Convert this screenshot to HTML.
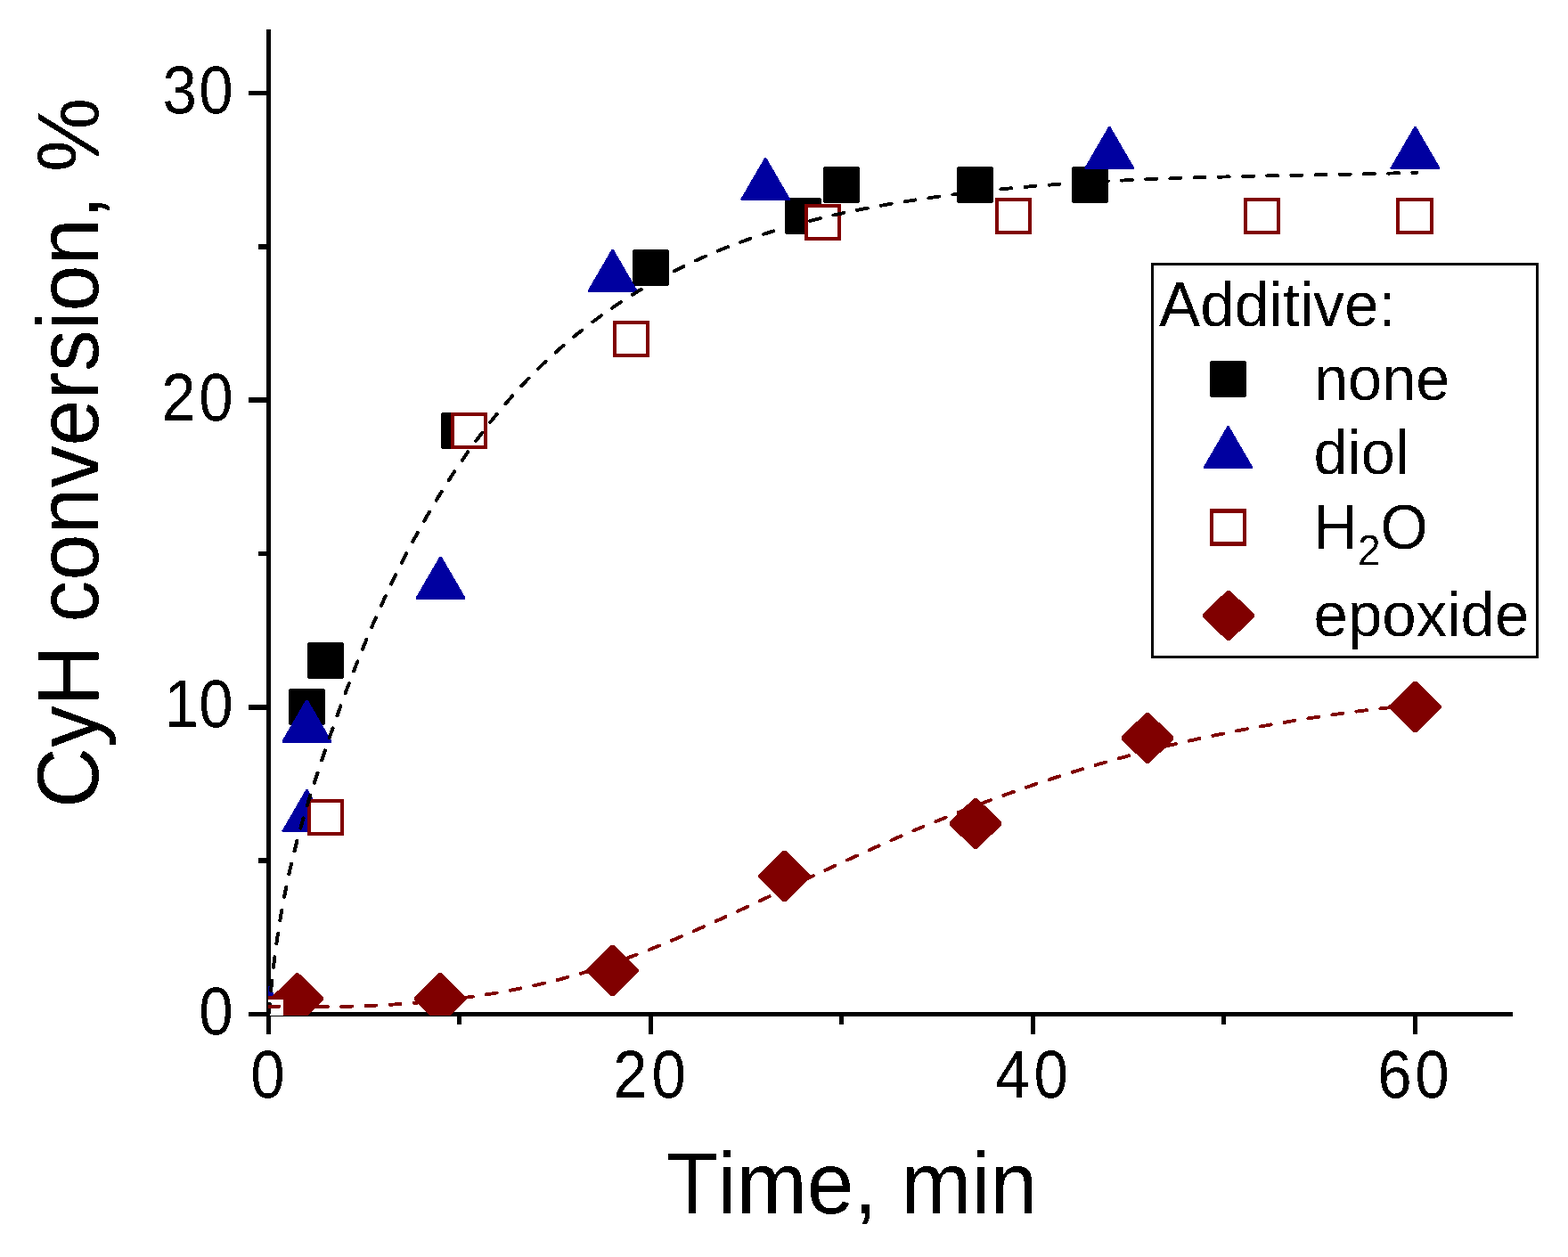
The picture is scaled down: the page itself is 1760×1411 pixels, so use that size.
<!DOCTYPE html>
<html lang="en"><head><meta charset="utf-8"><title>CyH conversion vs time</title>
<style>html,body{margin:0;padding:0;background:#fff}body{width:1760px;height:1411px;overflow:hidden}svg{display:block}text{font-family:"Liberation Sans",Arial,Helvetica,sans-serif;fill:#000;font-kerning:none}</style></head><body>
<svg width="1760" height="1411" viewBox="0 0 1760 1411">
<rect width="1760" height="1411" fill="#fff"/>
<defs><clipPath id="plot"><rect x="301" y="0" width="1459" height="1140"/></clipPath><filter id="bin" x="-5%" y="-5%" width="110%" height="110%" color-interpolation-filters="sRGB"><feComponentTransfer><feFuncA type="discrete" tableValues="0 1"/></feComponentTransfer></filter></defs>
<g id="axes" fill="#000" shape-rendering="crispEdges">
<rect x="299" y="33" width="5" height="1128"/>
<rect x="279" y="1136" width="1419" height="5"/>
<rect x="279" y="791" width="22" height="6"/>
<rect x="279" y="446" width="22" height="6"/>
<rect x="279" y="102" width="22" height="5"/>
<rect x="290" y="963" width="11" height="6"/>
<rect x="290" y="619" width="11" height="5"/>
<rect x="290" y="274" width="11" height="6"/>
<rect x="728" y="1138" width="5" height="23"/>
<rect x="1157" y="1138" width="5" height="23"/>
<rect x="1586" y="1138" width="5" height="23"/>
<rect x="513" y="1138" width="5" height="12"/>
<rect x="942" y="1138" width="5" height="12"/>
<rect x="1371" y="1138" width="5" height="12"/>
</g>
<g id="ticklabels" font-size="73.7" filter="url(#bin)">
<text transform="translate(0 1160.90) scale(0.9375 1.04)" x="238.17">0</text>
<text transform="translate(0 816.23) scale(0.9375 1.04)" x="196.84 238.17">10</text>
<text transform="translate(0 471.56) scale(0.9375 1.04)" x="193.37 238.17">20</text>
<text transform="translate(0 126.89) scale(0.9375 1.04)" x="194.66 238.17">30</text>
<text transform="translate(0 1232.40) scale(0.9375 1.04)" x="300.04">0</text>
<text transform="translate(0 1232.40) scale(0.9375 1.04)" x="734.17 780.15">20</text>
<text transform="translate(0 1232.40) scale(0.9375 1.04)" x="1191.90 1237.75">40</text>
<text transform="translate(0 1232.40) scale(0.9375 1.04)" x="1649.39 1694.17">60</text>
</g>
<g id="titles" filter="url(#bin)">
<text transform="translate(956.00 1362.00) scale(1.0 1.04)" text-anchor="middle" font-size="94.85">Time, min</text>
<text transform="translate(110.00 508.40) rotate(-90) scale(1.0 1.045)" text-anchor="middle" font-size="93.75">CyH conversion, %</text>
</g>
<g id="data" clip-path="url(#plot)" shape-rendering="crispEdges">
<g fill="#000000">
<rect x="324" y="773" width="41" height="41" rx="2.2"/>
<rect x="345" y="721" width="41" height="41" rx="2.2"/>
<rect x="495" y="463" width="41" height="41" rx="2.2"/>
<rect x="710" y="280" width="41" height="41" rx="2.2"/>
<rect x="881" y="222" width="41" height="41" rx="2.2"/>
<rect x="924" y="187" width="41" height="41" rx="2.2"/>
<rect x="1074" y="187" width="41" height="41" rx="2.2"/>
<rect x="1203" y="187" width="41" height="41" rx="2.2"/>
</g>
<g fill="#0000A0">
<path d="M300.50,1107.10 L302.50,1107.10 L329.50,1153.60 L328.70,1155.10 L274.30,1155.10 L273.50,1153.60 Z"/>
<path d="M343.40,886.17 L345.40,886.17 L372.40,932.67 L371.60,934.17 L317.20,934.17 L316.40,932.67 Z"/>
<path d="M343.40,785.52 L345.40,785.52 L372.40,832.02 L371.60,833.52 L317.20,833.52 L316.40,832.02 Z"/>
<path d="M493.55,624.56 L495.55,624.56 L522.55,671.06 L521.75,672.56 L467.35,672.56 L466.55,671.06 Z"/>
<path d="M686.60,279.89 L688.60,279.89 L715.60,326.39 L714.80,327.89 L660.40,327.89 L659.60,326.39 Z"/>
<path d="M858.20,177.18 L860.20,177.18 L887.20,223.68 L886.40,225.18 L832.00,225.18 L831.20,223.68 Z"/>
<path d="M1244.30,142.02 L1246.30,142.02 L1273.30,188.52 L1272.50,190.02 L1218.10,190.02 L1217.30,188.52 Z"/>
<path d="M1587.50,142.02 L1589.50,142.02 L1616.50,188.52 L1615.70,190.02 L1561.30,190.02 L1560.50,188.52 Z"/>
</g>
<g fill="#800000">
<path d="M332.15,1092.40 L335.35,1092.40 L363.05,1119.40 L363.05,1122.60 L335.35,1149.60 L332.15,1149.60 L304.45,1122.60 L304.45,1119.40 Z"/>
<path d="M492.40,1092.40 L495.60,1092.40 L523.30,1119.40 L523.30,1122.60 L495.60,1149.60 L492.40,1149.60 L464.70,1122.60 L464.70,1119.40 Z"/>
<path d="M685.90,1061.00 L689.10,1061.00 L716.80,1088.00 L716.80,1091.20 L689.10,1118.20 L685.90,1118.20 L658.20,1091.20 L658.20,1088.00 Z"/>
<path d="M878.90,954.90 L882.10,954.90 L909.80,981.90 L909.80,985.10 L882.10,1012.10 L878.90,1012.10 L851.20,985.10 L851.20,981.90 Z"/>
<path d="M1093.40,895.80 L1096.60,895.80 L1124.30,922.80 L1124.30,926.00 L1096.60,953.00 L1093.40,953.00 L1065.70,926.00 L1065.70,922.80 Z"/>
<path d="M1286.40,799.90 L1289.60,799.90 L1317.30,826.90 L1317.30,830.10 L1289.60,857.10 L1286.40,857.10 L1258.70,830.10 L1258.70,826.90 Z"/>
<path d="M1586.90,764.80 L1590.10,764.80 L1617.80,791.80 L1617.80,795.00 L1590.10,822.00 L1586.90,822.00 L1559.20,795.00 L1559.20,791.80 Z"/>
</g>
<rect x="281" y="1118" width="41" height="41" rx="1.5" fill="#800000"/><rect x="285" y="1122" width="33" height="33" fill="#fff"/>
<rect x="345" y="897" width="41" height="41" rx="1.5" fill="#800000"/><rect x="349" y="901" width="33" height="33" fill="#fff"/>
<rect x="506" y="463" width="41" height="41" rx="1.5" fill="#800000"/><rect x="510" y="467" width="33" height="33" fill="#fff"/>
<rect x="688" y="360" width="41" height="41" rx="1.5" fill="#800000"/><rect x="692" y="364" width="33" height="33" fill="#fff"/>
<rect x="903" y="229" width="41" height="41" rx="1.5" fill="#800000"/><rect x="907" y="233" width="33" height="33" fill="#fff"/>
<rect x="1117" y="222" width="41" height="41" rx="1.5" fill="#800000"/><rect x="1121" y="226" width="33" height="33" fill="#fff"/>
<rect x="1396" y="222" width="41" height="41" rx="1.5" fill="#800000"/><rect x="1400" y="226" width="33" height="33" fill="#fff"/>
<rect x="1567" y="222" width="42" height="41" rx="1.5" fill="#800000"/><rect x="1571" y="226" width="34" height="33" fill="#fff"/>
<g id="fits" transform="scale(1.026 1)" fill="none" stroke-linecap="round" stroke-linejoin="round">
<path id="fit-black" d="M293.86,1138.50 L294.28,1133.89 L294.70,1129.29 L295.13,1124.69 L295.57,1120.09 L296.02,1115.50 L296.48,1110.91 L296.94,1106.33 L297.42,1101.75 L297.91,1097.17 L298.41,1092.60 L298.92,1088.03 L299.45,1083.46 L299.99,1078.90 L300.54,1074.34 L301.11,1069.79 L301.70,1065.24 L302.31,1060.69 L302.93,1056.15 L303.57,1051.61 L304.23,1047.08 L304.91,1042.54 L305.61,1038.02 L306.33,1033.49 L307.07,1028.98 L307.82,1024.46 L308.60,1019.95 L309.40,1015.44 L310.22,1010.94 L311.06,1006.44 L311.92,1001.94 L312.80,997.45 L313.70,992.96 L314.63,988.47 L315.57,983.99 L316.54,979.52 L317.52,975.04 L318.53,970.57 L319.56,966.11 L320.61,961.64 L321.68,957.19 L322.78,952.73 L323.90,948.28 L325.03,943.83 L326.19,939.39 L327.37,934.95 L328.58,930.52 L329.79,926.09 L331.03,921.66 L332.29,917.23 L333.56,912.81 L334.85,908.40 L336.15,903.98 L337.47,899.58 L338.80,895.17 L340.15,890.77 L341.51,886.37 L342.87,881.98 L344.25,877.59 L345.64,873.20 L347.04,868.82 L348.45,864.44 L349.87,860.07 L351.29,855.70 L352.72,851.33 L354.15,846.97 L355.60,842.61 L357.04,838.25 L358.49,833.90 L359.95,829.55 L361.41,825.20 L362.88,820.86 L364.36,816.53 L365.84,812.19 L367.33,807.86 L368.83,803.54 L370.34,799.22 L371.86,794.90 L373.38,790.58 L374.91,786.27 L376.46,781.96 L378.01,777.66 L379.57,773.36 L381.15,769.07 L382.73,764.77 L384.33,760.49 L385.94,756.20 L387.55,751.92 L389.19,747.64 L390.83,743.37 L392.48,739.10 L394.15,734.83 L395.83,730.57 L397.53,726.32 L399.24,722.06 L400.96,717.82 L402.69,713.57 L404.44,709.34 L406.20,705.10 L407.97,700.88 L409.76,696.65 L411.56,692.44 L413.38,688.23 L415.21,684.02 L417.05,679.83 L418.91,675.63 L420.78,671.45 L422.67,667.27 L424.58,663.10 L426.50,658.93 L428.43,654.78 L430.38,650.63 L432.34,646.48 L434.32,642.35 L436.32,638.22 L438.33,634.10 L440.36,629.99 L442.40,625.89 L444.46,621.79 L446.54,617.71 L448.63,613.63 L450.74,609.56 L452.86,605.50 L455.01,601.45 L457.17,597.41 L459.34,593.38 L461.54,589.36 L463.75,585.35 L465.98,581.34 L468.22,577.35 L470.49,573.37 L472.77,569.40 L475.07,565.44 L477.39,561.49 L479.73,557.56 L482.08,553.63 L484.46,549.71 L486.85,545.81 L489.26,541.92 L491.69,538.04 L494.14,534.18 L496.61,530.33 L499.10,526.49 L501.61,522.66 L504.13,518.85 L506.68,515.06 L509.25,511.28 L511.84,507.51 L514.44,503.76 L517.07,500.03 L519.72,496.31 L522.39,492.61 L525.08,488.93 L527.79,485.27 L530.52,481.62 L533.27,477.99 L536.05,474.38 L538.84,470.79 L541.66,467.22 L544.50,463.66 L547.36,460.13 L550.24,456.62 L553.14,453.13 L556.07,449.66 L559.02,446.21 L561.99,442.78 L564.98,439.38 L567.99,435.99 L571.03,432.63 L574.10,429.30 L577.18,425.98 L580.29,422.69 L583.42,419.43 L586.57,416.19 L589.75,412.97 L592.95,409.78 L596.18,406.61 L599.43,403.48 L602.70,400.36 L606.00,397.27 L609.32,394.21 L612.66,391.18 L616.03,388.17 L619.41,385.18 L622.82,382.23 L626.26,379.30 L629.71,376.39 L633.18,373.51 L636.68,370.66 L640.19,367.84 L643.73,365.04 L647.29,362.27 L650.87,359.52 L654.46,356.81 L658.08,354.12 L661.72,351.45 L665.37,348.82 L669.05,346.21 L672.74,343.63 L676.46,341.07 L680.19,338.55 L683.94,336.05 L687.71,333.58 L691.49,331.13 L695.29,328.72 L699.11,326.33 L702.95,323.97 L706.80,321.64 L710.67,319.34 L714.56,317.06 L718.46,314.81 L722.38,312.59 L726.31,310.40 L730.26,308.24 L734.22,306.11 L738.20,304.00 L742.20,301.92 L746.20,299.88 L750.23,297.86 L754.26,295.87 L758.31,293.91 L762.38,291.98 L766.45,290.07 L770.54,288.20 L774.64,286.36 L778.76,284.54 L782.88,282.76 L787.02,281.00 L791.17,279.27 L795.34,277.58 L799.51,275.91 L803.70,274.27 L807.89,272.66 L812.10,271.08 L816.32,269.53 L820.54,268.00 L824.78,266.50 L829.03,265.03 L833.28,263.58 L837.55,262.16 L841.82,260.77 L846.11,259.40 L850.40,258.05 L854.70,256.73 L859.01,255.44 L863.33,254.17 L867.65,252.92 L871.98,251.69 L876.32,250.49 L880.67,249.31 L885.02,248.16 L889.38,247.02 L893.74,245.91 L898.12,244.81 L902.49,243.74 L906.87,242.69 L911.26,241.66 L915.66,240.65 L920.05,239.65 L924.46,238.68 L928.86,237.72 L933.27,236.79 L937.69,235.87 L942.11,234.97 L946.53,234.08 L950.95,233.21 L955.38,232.36 L959.81,231.53 L964.25,230.71 L968.68,229.91 L973.12,229.12 L977.56,228.34 L982.00,227.58 L986.44,226.84 L990.89,226.11 L995.33,225.39 L999.78,224.68 L1004.22,223.99 L1008.67,223.31 L1013.12,222.64 L1017.56,221.99 L1022.01,221.34 L1026.46,220.71 L1030.91,220.09 L1035.36,219.48 L1039.81,218.89 L1044.26,218.30 L1048.71,217.73 L1053.16,217.17 L1057.61,216.62 L1062.06,216.08 L1066.51,215.55 L1070.97,215.03 L1075.42,214.52 L1079.88,214.02 L1084.33,213.54 L1088.78,213.06 L1093.24,212.59 L1097.70,212.13 L1102.15,211.69 L1106.61,211.25 L1111.07,210.82 L1115.52,210.40 L1119.98,209.99 L1124.44,209.59 L1128.90,209.20 L1133.36,208.82 L1137.82,208.44 L1142.28,208.08 L1146.74,207.72 L1151.20,207.37 L1155.66,207.03 L1160.12,206.70 L1164.58,206.38 L1169.05,206.06 L1173.51,205.75 L1177.97,205.45 L1182.44,205.16 L1186.90,204.87 L1191.37,204.59 L1195.83,204.32 L1200.30,204.05 L1204.76,203.79 L1209.23,203.54 L1213.70,203.30 L1218.17,203.06 L1222.63,202.82 L1227.10,202.60 L1231.57,202.38 L1236.04,202.16 L1240.51,201.95 L1244.98,201.75 L1249.45,201.55 L1253.92,201.36 L1258.39,201.17 L1262.86,200.98 L1267.33,200.81 L1271.80,200.63 L1276.27,200.46 L1280.75,200.30 L1285.22,200.14 L1289.69,199.99 L1294.17,199.83 L1298.64,199.69 L1303.12,199.54 L1307.59,199.40 L1312.07,199.27 L1316.54,199.13 L1321.02,199.01 L1325.49,198.88 L1329.97,198.76 L1334.45,198.64 L1338.92,198.52 L1343.40,198.40 L1347.88,198.29 L1352.36,198.18 L1356.84,198.08 L1361.32,197.97 L1365.80,197.87 L1370.28,197.77 L1374.76,197.67 L1379.24,197.57 L1383.72,197.47 L1388.20,197.38 L1392.68,197.28 L1397.16,197.19 L1401.64,197.10 L1406.12,197.01 L1410.61,196.92 L1415.09,196.83 L1419.57,196.74 L1424.06,196.65 L1428.54,196.56 L1433.02,196.47 L1437.51,196.38 L1441.99,196.29 L1446.48,196.20 L1450.96,196.11 L1455.45,196.02 L1459.93,195.93 L1464.42,195.84 L1468.91,195.75 L1473.39,195.65 L1477.88,195.56 L1482.37,195.46 L1486.86,195.36 L1491.34,195.26 L1495.83,195.16 L1500.32,195.06 L1504.81,194.95 L1509.30,194.84 L1513.79,194.73 L1518.28,194.62 L1522.76,194.50 L1527.25,194.38 L1531.74,194.26 L1536.24,194.14 L1540.73,194.01 L1545.22,193.88 L1549.71,193.75" stroke="#000000" stroke-width="3.9" stroke-dasharray="11.7 14.815"/>
<path id="fit-red" d="M293.86,1129.60 L297.14,1129.68 L300.43,1129.75 L303.72,1129.82 L307.00,1129.88 L310.29,1129.94 L313.58,1129.99 L316.87,1130.04 L320.17,1130.08 L323.46,1130.11 L326.75,1130.14 L330.05,1130.16 L333.34,1130.18 L336.64,1130.19 L339.93,1130.19 L343.23,1130.19 L346.53,1130.18 L349.82,1130.17 L353.12,1130.15 L356.42,1130.12 L359.72,1130.08 L363.01,1130.04 L366.31,1129.99 L369.61,1129.93 L372.91,1129.87 L376.20,1129.80 L379.50,1129.72 L382.80,1129.64 L386.10,1129.55 L389.39,1129.45 L392.69,1129.34 L395.98,1129.22 L399.28,1129.10 L402.57,1128.97 L405.87,1128.83 L409.16,1128.68 L412.45,1128.53 L415.74,1128.36 L419.03,1128.19 L422.32,1128.01 L425.61,1127.82 L428.90,1127.62 L432.19,1127.42 L435.47,1127.20 L438.75,1126.98 L442.04,1126.74 L445.32,1126.50 L448.60,1126.25 L451.88,1125.99 L455.16,1125.72 L458.43,1125.44 L461.70,1125.15 L464.98,1124.85 L468.25,1124.55 L471.52,1124.23 L474.78,1123.90 L478.05,1123.56 L481.31,1123.21 L484.57,1122.86 L487.83,1122.49 L491.09,1122.11 L494.34,1121.72 L497.60,1121.32 L500.85,1120.91 L504.09,1120.49 L507.34,1120.06 L510.58,1119.62 L513.82,1119.16 L517.06,1118.70 L520.30,1118.22 L523.53,1117.74 L526.76,1117.24 L529.99,1116.73 L533.21,1116.21 L536.43,1115.68 L539.65,1115.13 L542.87,1114.58 L546.08,1114.01 L549.29,1113.43 L552.50,1112.84 L555.70,1112.24 L558.91,1111.62 L562.11,1110.99 L565.30,1110.35 L568.49,1109.70 L571.68,1109.04 L574.87,1108.36 L578.06,1107.67 L581.24,1106.97 L584.41,1106.25 L587.59,1105.52 L590.76,1104.78 L593.93,1104.02 L597.09,1103.25 L600.25,1102.47 L603.41,1101.68 L606.57,1100.87 L609.72,1100.05 L612.86,1099.21 L616.01,1098.36 L619.15,1097.50 L622.29,1096.62 L625.42,1095.73 L628.55,1094.82 L631.68,1093.90 L634.80,1092.97 L637.92,1092.02 L641.04,1091.06 L644.15,1090.08 L647.26,1089.09 L650.37,1088.09 L653.47,1087.07 L656.57,1086.03 L659.66,1084.99 L662.75,1083.93 L665.84,1082.86 L668.93,1081.78 L672.01,1080.68 L675.09,1079.57 L678.17,1078.46 L681.24,1077.32 L684.31,1076.18 L687.38,1075.03 L690.44,1073.86 L693.51,1072.69 L696.56,1071.50 L699.62,1070.31 L702.67,1069.10 L705.73,1067.89 L708.77,1066.66 L711.82,1065.43 L714.86,1064.18 L717.90,1062.93 L720.94,1061.67 L723.98,1060.40 L727.01,1059.12 L730.05,1057.83 L733.08,1056.54 L736.10,1055.24 L739.13,1053.93 L742.15,1052.61 L745.17,1051.29 L748.19,1049.96 L751.21,1048.62 L754.23,1047.28 L757.24,1045.93 L760.25,1044.58 L763.26,1043.22 L766.27,1041.85 L769.28,1040.48 L772.28,1039.10 L775.29,1037.72 L778.29,1036.34 L781.29,1034.95 L784.29,1033.56 L787.29,1032.16 L790.29,1030.76 L793.28,1029.35 L796.28,1027.95 L799.27,1026.54 L802.26,1025.12 L805.26,1023.71 L808.25,1022.29 L811.24,1020.87 L814.23,1019.45 L817.21,1018.02 L820.20,1016.60 L823.19,1015.17 L826.17,1013.74 L829.16,1012.31 L832.14,1010.88 L835.13,1009.45 L838.11,1008.01 L841.09,1006.58 L844.08,1005.14 L847.06,1003.71 L850.04,1002.27 L853.02,1000.83 L856.00,999.39 L858.98,997.96 L861.97,996.52 L864.95,995.08 L867.93,993.64 L870.91,992.20 L873.89,990.77 L876.87,989.33 L879.85,987.89 L882.83,986.46 L885.82,985.03 L888.80,983.59 L891.78,982.16 L894.77,980.73 L897.75,979.30 L900.73,977.87 L903.72,976.44 L906.70,975.02 L909.69,973.60 L912.68,972.17 L915.66,970.75 L918.65,969.34 L921.64,967.92 L924.63,966.51 L927.62,965.10 L930.61,963.69 L933.61,962.29 L936.60,960.89 L939.59,959.49 L942.59,958.09 L945.59,956.70 L948.59,955.31 L951.59,953.93 L954.59,952.55 L957.59,951.17 L960.60,949.79 L963.60,948.42 L966.61,947.06 L969.62,945.70 L972.63,944.34 L975.64,942.99 L978.66,941.64 L981.67,940.29 L984.69,938.96 L987.71,937.62 L990.73,936.29 L993.76,934.97 L996.78,933.65 L999.81,932.33 L1002.84,931.02 L1005.87,929.72 L1008.90,928.41 L1011.93,927.12 L1014.97,925.83 L1018.01,924.54 L1021.05,923.26 L1024.09,921.99 L1027.13,920.71 L1030.18,919.45 L1033.22,918.19 L1036.27,916.93 L1039.32,915.68 L1042.37,914.44 L1045.42,913.20 L1048.48,911.96 L1051.54,910.73 L1054.60,909.51 L1057.66,908.29 L1060.72,907.08 L1063.78,905.87 L1066.85,904.66 L1069.91,903.47 L1072.98,902.27 L1076.05,901.09 L1079.13,899.91 L1082.20,898.73 L1085.28,897.56 L1088.35,896.39 L1091.43,895.24 L1094.51,894.08 L1097.60,892.93 L1100.68,891.79 L1103.77,890.65 L1106.85,889.52 L1109.94,888.40 L1113.03,887.28 L1116.13,886.16 L1119.22,885.05 L1122.32,883.95 L1125.42,882.86 L1128.51,881.76 L1131.62,880.68 L1134.72,879.60 L1137.82,878.53 L1140.93,877.46 L1144.04,876.40 L1147.15,875.34 L1150.26,874.29 L1153.37,873.25 L1156.48,872.21 L1159.60,871.18 L1162.72,870.16 L1165.84,869.14 L1168.96,868.12 L1172.08,867.12 L1175.20,866.12 L1178.33,865.12 L1181.46,864.14 L1184.58,863.15 L1187.71,862.18 L1190.85,861.21 L1193.98,860.25 L1197.11,859.29 L1200.25,858.34 L1203.39,857.40 L1206.53,856.46 L1209.67,855.53 L1212.81,854.60 L1215.96,853.69 L1219.11,852.78 L1222.25,851.87 L1225.40,850.97 L1228.55,850.08 L1231.71,849.20 L1234.86,848.32 L1238.02,847.45 L1241.17,846.58 L1244.33,845.73 L1247.49,844.87 L1250.65,844.03 L1253.82,843.19 L1256.98,842.36 L1260.15,841.54 L1263.32,840.72 L1266.49,839.91 L1269.66,839.11 L1272.83,838.31 L1276.01,837.52 L1279.18,836.74 L1282.36,835.97 L1285.54,835.20 L1288.72,834.44 L1291.90,833.68 L1295.08,832.93 L1298.27,832.19 L1301.45,831.46 L1304.64,830.73 L1307.83,830.01 L1311.02,829.30 L1314.21,828.59 L1317.41,827.88 L1320.60,827.19 L1323.80,826.50 L1327.00,825.81 L1330.20,825.14 L1333.40,824.46 L1336.60,823.80 L1339.80,823.14 L1343.01,822.48 L1346.22,821.83 L1349.42,821.19 L1352.63,820.55 L1355.84,819.92 L1359.06,819.29 L1362.27,818.66 L1365.49,818.05 L1368.70,817.43 L1371.92,816.83 L1375.14,816.22 L1378.36,815.63 L1381.59,815.03 L1384.81,814.44 L1388.04,813.86 L1391.26,813.28 L1394.49,812.71 L1397.72,812.13 L1400.95,811.57 L1404.19,811.01 L1407.42,810.45 L1410.65,809.89 L1413.89,809.34 L1417.13,808.80 L1420.37,808.26 L1423.61,807.72 L1426.85,807.19 L1430.10,806.66 L1433.34,806.13 L1436.59,805.61 L1439.84,805.10 L1443.08,804.59 L1446.34,804.09 L1449.59,803.59 L1452.84,803.09 L1456.09,802.60 L1459.35,802.12 L1462.61,801.64 L1465.87,801.17 L1469.13,800.70 L1472.39,800.24 L1475.65,799.79 L1478.91,799.34 L1482.18,798.90 L1485.45,798.46 L1488.72,798.03 L1491.98,797.61 L1495.26,797.19 L1498.53,796.78 L1501.80,796.37 L1505.07,795.98 L1508.35,795.59 L1511.63,795.21 L1514.91,794.83 L1518.19,794.46 L1521.47,794.10 L1524.75,793.75 L1528.03,793.40 L1531.32,793.07 L1534.60,792.74 L1537.89,792.42 L1541.18,792.10 L1544.47,791.80 L1547.76,791.50" stroke="#800000" stroke-width="3.9" stroke-dasharray="11.7 14.838"/>
</g>
</g>
<g id="legend">
<rect x="1293.5" y="296.5" width="432" height="441" fill="#fff" stroke="#000" stroke-width="3" shape-rendering="crispEdges"/>
<g font-size="68.5" filter="url(#bin)">
<text transform="translate(1301.00 366.00) scale(1.012 1.04)" text-anchor="start">Additive:</text>
<text transform="translate(1475.00 449.00) scale(1.0 1.04)" text-anchor="start">none</text>
<text transform="translate(1474.50 532.00) scale(1.0 1.04)" text-anchor="start">diol</text>
<text transform="translate(1474.50 616.00) scale(1.0 1.04)" text-anchor="start">H<tspan font-size="45.9" dy="17.31">2</tspan><tspan dy="-17.31">O</tspan></text>
<text transform="translate(1474.50 714.00) scale(1.008 1.04)" text-anchor="start">epoxide</text>
</g>
<g id="legend-symbols" shape-rendering="crispEdges">
<rect x="1358.0" y="405.0" width="41" height="41" rx="2.2" fill="#000000"/>
<g fill="#0000A0"><path d="M1377.50,478.30 L1379.50,478.30 L1406.50,524.80 L1405.70,526.30 L1351.30,526.30 L1350.50,524.80 Z"/></g>
<rect x="1358" y="571" width="41" height="42" rx="1.5" fill="#800000"/><rect x="1362" y="576" width="33" height="32" fill="#fff"/>
<g fill="#800000"><path d="M1377.30,663.00 L1380.50,663.00 L1408.20,689.40 L1408.20,692.60 L1380.50,719.00 L1377.30,719.00 L1349.60,692.60 L1349.60,689.40 Z"/></g>
</g>
</g>
</svg></body></html>
